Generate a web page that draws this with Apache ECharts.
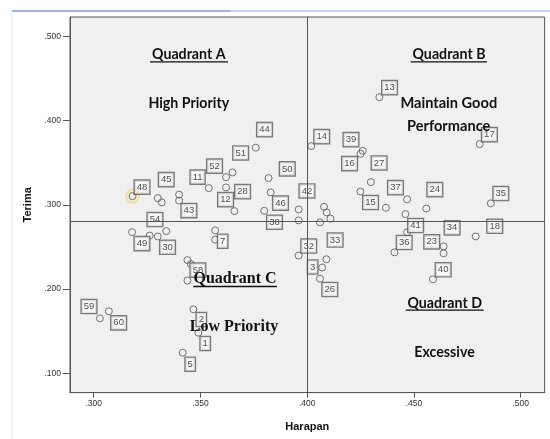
<!DOCTYPE html>
<html>
<head>
<meta charset="utf-8">
<script src="https://cdn.jsdelivr.net/npm/echarts@6/dist/echarts.min.js"></script>
<style>
html,body{margin:0;padding:0;background:#fff;}
#chart{width:550px;height:439px;}
</style>
</head>
<body>
<div id="chart"></div>
<script>
// ---- Data ----
const labeledIds = [48,45,43,11,52,51,12,28,44,50,46,38,42,14,39,16,13,27,15,37,24,41,36,34,23,40,18,17,35,49,54,30,7,58,2,1,5,59,60,32,33,3,26];
const labeledHarapan = [0.3182,0.3300,0.3400,0.3539,0.3620,0.3650,0.3620,0.3659,0.3759,0.3819,0.3829,0.3799,0.3960,0.4019,0.4260,0.4250,0.4338,0.4298,0.4249,0.4369,0.4558,0.4468,0.4409,0.4639,0.4639,0.4589,0.4789,0.4808,0.4860,0.3180,0.3262,0.3300,0.3569,0.3439,0.3467,0.3490,0.3417,0.3029,0.3071,0.3960,0.4090,0.4070,0.4060];
const labeledTerima  = [0.3103,0.3079,0.3050,0.3198,0.3328,0.3384,0.3206,0.2925,0.3678,0.3317,0.3147,0.2929,0.2945,0.3696,0.3640,0.3605,0.4277,0.3269,0.3157,0.2964,0.2955,0.2673,0.2436,0.2507,0.2424,0.2116,0.2625,0.3720,0.3017,0.2676,0.2635,0.2625,0.2697,0.2344,0.1760,0.1483,0.1245,0.1653,0.1736,0.2398,0.2354,0.2256,0.2123];
const unlabeledHarapan = [0.3319,0.3400,0.3960,0.4079,0.4091,0.4109,0.4060,0.4468,0.4460,0.3340,0.3569,0.3455,0.3439];
const unlabeledTerima  = [0.3028,0.3121,0.2815,0.2976,0.2910,0.2836,0.2791,0.3065,0.2890,0.2688,0.2587,0.2297,0.2101];
const xTicks = [0.300,0.350,0.400,0.450,0.500];
const yTicks = [0.100,0.200,0.300,0.400,0.500];
const meanHarapan = 0.400;
const meanTerima = 0.279;
const highlightedId = 48;
const xName = 'Harapan';
const yName = 'Terima';

// ---- Layout: label box centre relative to its point (px) ----
const labelOffsets = {
  48:[10,-8.5],45:[9,-18],43:[10.3,10.5],11:[-10.7,-10.5],52:[-11,-10.5],51:[8.7,-19],12:[0,12.7],
  28:[8.7,-19],44:[9.3,-17.5],50:[19.2,-8.7],46:[10.3,11.2],38:[10.7,12],42:[8.8,-18],14:[11,-9],
  39:[-11.2,-10.7],16:[-10.5,10.3],13:[10.7,-9],27:[8.8,-18.7],15:[10.7,11.5],37:[10,-19.7],24:[9,-18.5],
  41:[9,-6.3],36:[10.2,-9.3],34:[9,-18],23:[-11.4,-11],40:[10.7,-9],18:[19.6,-9.6],17:[10.2,-9],
  35:[10.5,-9.3],49:[10.3,12],54:[5.8,-15.5],30:[10.3,11.4],7:[8,11.4],58:[11,10.5],2:[8.4,10.7],
  1:[7.4,11.3],5:[8,12],59:[-10.4,-11.3],60:[10.3,12],32:[10.6,-9],33:[9.2,-18.7],3:[-9,0],26:[10.3,11.3]
};
const SYM = 7;

const labeledData = labeledIds.map((id,i)=>{
  const o = labelOffsets[id] || [10,-9];
  return {value:[labeledHarapan[i], labeledTerima[i], id],
    label:{position:[SYM/2 + o[0], SYM/2 + o[1]]}};
});
const unlabeledData = unlabeledHarapan.map((x,i)=>[x, unlabeledTerima[i]]);
const hi = labeledIds.indexOf(highlightedId);
const highlightData = [[labeledHarapan[hi], labeledTerima[hi]]];

const fmt = v => v.toFixed(3).replace(/^0/, '');
const ink = '#555';

const chart = echarts.init(document.getElementById('chart'), null, {renderer:'canvas'});

const quadFont = 'Lato, "Open Sans", sans-serif';
const serifFont = '"Liberation Serif", "DejaVu Serif", serif';
function txt(x,y,s,font,size){
  return {type:'text', x:x, y:y, z:100,
    style:{text:s, font:'bold '+size+'px '+font, fill:'#111', textAlign:'center', textVerticalAlign:'middle'}};
}
function uline(x1,x2,y,w){
  return {type:'line', z:100, shape:{x1:x1,y1:y,x2:x2,y2:y}, style:{stroke:'#111', lineWidth:w||1.3}};
}
const pointStyle = {color:'rgba(0,0,0,0)', borderColor:ink, borderWidth:1};

chart.setOption({
  animation:false,
  backgroundColor:'#fff',
  grid:{left:70, top:17, right:5.4, bottom:46.4, show:true, backgroundColor:'#f0f0f0', borderColor:ink, borderWidth:1},
  xAxis:{type:'value', min:0.2889, max:0.5112,
    name:xName, nameLocation:'middle', nameGap:29,
    nameTextStyle:{fontFamily:'"Liberation Sans", Arial, sans-serif', fontWeight:'bold', fontSize:11, color:'#111'},
    axisLine:{show:true, lineStyle:{color:ink}},
    axisTick:{show:true, length:5, customValues:xTicks, lineStyle:{color:ink}},
    axisLabel:{customValues:xTicks, formatter:fmt, fontSize:8.5, color:'#333', margin:7, fontFamily:'"Liberation Sans", Arial, sans-serif'},
    splitLine:{show:false}},
  yAxis:{type:'value', min:0.0772, max:0.5228,
    name:yName, nameLocation:'middle', nameGap:28, nameRotate:90,
    nameTextStyle:{fontFamily:'"Liberation Sans", Arial, sans-serif', fontWeight:'bold', fontSize:11, color:'#111'},
    axisLine:{show:true, lineStyle:{color:ink}},
    axisTick:{show:true, length:7, customValues:yTicks, lineStyle:{color:ink}},
    axisLabel:{customValues:yTicks, formatter:fmt, fontSize:8.5, color:'#333', margin:9, fontFamily:'"Liberation Sans", Arial, sans-serif'},
    splitLine:{show:false}},
  series:[
    {type:'scatter', name:'lines', data:[], silent:true,
      markLine:{silent:true, symbol:'none', label:{show:false},
        lineStyle:{color:ink, width:1, type:'solid'},
        data:[{xAxis:meanHarapan},{yAxis:meanTerima}]}},
    {type:'scatter', name:'highlight', data:highlightData, symbol:'circle', symbolSize:13, silent:true,
      itemStyle:{color:'rgba(250,225,140,0.25)', borderColor:'#f3d98a', borderWidth:2}, z:2},
    {type:'scatter', name:'unlabeled', data:unlabeledData, symbol:'circle', symbolSize:SYM,
      itemStyle:pointStyle, z:3},
    {type:'scatter', name:'cases', data:labeledData, symbol:'circle', symbolSize:SYM,
      itemStyle:pointStyle, z:4,
      label:{show:true, formatter:p=>String(p.value[2]),
        fontFamily:'"Liberation Sans", Arial, sans-serif', fontSize:9.5, color:'#222',
        backgroundColor:'#fafafa', borderColor:'#5a5a5a', borderWidth:1.3, padding:[2,2,1,2],
        align:'center', verticalAlign:'middle'}}
  ],
  graphic:[
    {type:'line', z:0, shape:{x1:12,y1:11,x2:230,y2:11}, style:{stroke:'#7d9cc6', lineWidth:1.5}},
    {type:'line', z:0, shape:{x1:230,y1:11,x2:550,y2:11}, style:{stroke:'#aac6ea', lineWidth:1.5}},
    {type:'line', z:0, shape:{x1:12,y1:11,x2:12,y2:439}, style:{stroke:'#e3ebf4', lineWidth:1}},
    txt(188.8,54,'Quadrant A',quadFont,14.2), uline(150,228,61.8),
    txt(188.8,103,'High Priority',quadFont,14.2),
    txt(449,54,'Quadrant B',quadFont,14.2), uline(410.7,487,61.8),
    txt(448.8,103,'Maintain Good',quadFont,14.6),
    txt(448.7,126,'Performance',quadFont,14.6),
    txt(235,279,'Quadrant C',serifFont,16), uline(193.3,277,286.5,1.6),
    txt(234,326.7,'Low Priority',serifFont,16),
    txt(444.7,303,'Quadrant D',quadFont,14.2), uline(405.7,483.7,310.2),
    txt(444.5,352,'Excessive',quadFont,14.2)
  ]
});
</script>
</body>
</html>
